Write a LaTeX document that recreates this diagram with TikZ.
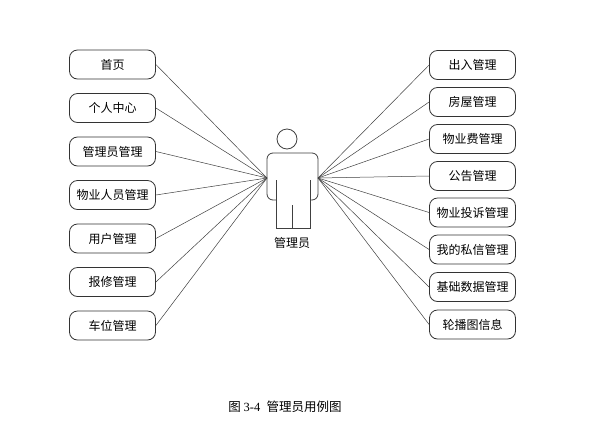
\documentclass[tikz,border=0pt]{standalone}
\usepackage{fontspec}
\setmainfont{Noto Sans CJK SC}
\newfontfamily\capfont{Liberation Serif}
\usepackage{tikz}
\tikzset{
         usecase/.style=
          {
           draw=black!80,
           line width=0.8pt,
           rounded corners=8pt,
           minimum width=86pt,
           minimum height=29pt,
           inner sep=0pt,
           font=\fontsize{12}{13}\selectfont
          },
         assoc/.style={draw=black!75,line width=0.5pt},
         actorline/.style={draw=black!75,line width=0.8pt}
        }

\begin{document}
\begin{tikzpicture}[x=1pt,y=-1pt]

\useasboundingbox[fill=white](0,0)rectangle(600,424);

%left use cases
\node[usecase](sy)at(112.5,64.5){首页};
\node[usecase](grzx)at(112.5,108){个人中心};
\node[usecase](glygl)at(112.5,151.5){管理员管理};
\node[usecase](wyry)at(112.5,195){物业人员管理};
\node[usecase](yhgl)at(112.5,238.5){用户管理};
\node[usecase](bxgl)at(112.5,282){报修管理};
\node[usecase](cwgl)at(112.5,325.5){车位管理};

%right use cases
\node[usecase](crgl)at(472.5,65){出入管理};
\node[usecase](fwgl)at(472.5,102){房屋管理};
\node[usecase](wyfgl)at(472.5,139){物业费管理};
\node[usecase](gggl)at(472.5,176){公告管理};
\node[usecase](tsgl)at(472.5,212.5){物业投诉管理};
\node[usecase](sxgl)at(472.5,249.5){我的私信管理};
\node[usecase](sjgl)at(472.5,287){基础数据管理};
\node[usecase](lbgl)at(472.5,324.5){轮播图信息};

%actor
\draw[actorline](287,139)circle(10);
\draw[actorline,rounded corners=6pt](276,200)--(267,200)--(267,153)--(318,153)--(318,200)--(310,200);
\draw[actorline](276,180)--(276,228)--(310,228)--(310,180);
\draw[actorline](292,205)--(292,228);
\node[font=\fontsize{12}{13}\selectfont](act)at(292,243){管理员};
\coordinate(actL)at(267,178);
\coordinate(actR)at(318,178);

%associations
\draw[assoc](sy.east)--(actL);
\draw[assoc](grzx.east)--(actL);
\draw[assoc](glygl.east)--(actL);
\draw[assoc](wyry.east)--(actL);
\draw[assoc](yhgl.east)--(actL);
\draw[assoc](bxgl.east)--(actL);
\draw[assoc](cwgl.east)--(actL);
\draw[assoc](crgl.west)--(actR);
\draw[assoc](fwgl.west)--(actR);
\draw[assoc](wyfgl.west)--(actR);
\draw[assoc](gggl.west)--(actR);
\draw[assoc](tsgl.west)--(actR);
\draw[assoc](sxgl.west)--(actR);
\draw[assoc](sjgl.west)--(actR);
\draw[assoc](lbgl.west)--(actR);

%caption
\node[font=\fontsize{12.5}{13}\selectfont](cap)at(285,406.5){图 {\capfont 3-4}\enspace 管理员用例图};

\end{tikzpicture}
\end{document}
